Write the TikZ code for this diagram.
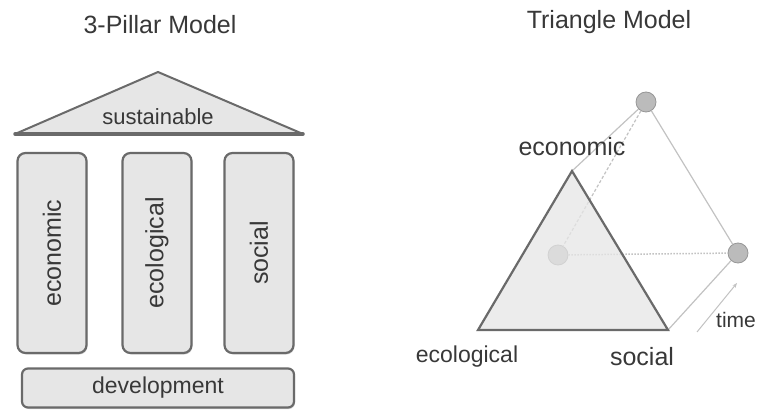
\documentclass[tikz,border=0pt]{standalone}
\usepackage{fontspec}
\setmainfont{Liberation Sans}
\usetikzlibrary{positioning,arrows.meta,shadows}

\definecolor{ink}{HTML}{383838}
\definecolor{edge}{HTML}{6A6A6A}
\definecolor{boxfill}{HTML}{E6E6E6}
\definecolor{faint}{HTML}{C2C2C2}
\definecolor{ballfill}{HTML}{BBBBBB}

\tikzset{
  lbl/.style={text=ink, inner sep=0pt, font=\fontsize{25}{30}\selectfont},
  pillar/.style={draw=edge, line width=2.2pt, fill=boxfill, rounded corners=8pt,
    minimum width=69pt, minimum height=200pt, inner sep=0pt, text=ink,
    font=\fontsize{25}{30}\selectfont,
    drop shadow={shadow xshift=1pt, shadow yshift=-1.5pt, opacity=.3}},
  ball/.style={circle, fill=ballfill, draw=ballfill!80!black, line width=0.8pt,
    minimum size=20pt, inner sep=0pt},
  hidden/.style={faint, line width=1.2pt, dash pattern=on 3pt off 2pt},
}

\begin{document}
\begin{tikzpicture}[x=1pt,y=-1pt]
\useasboundingbox (0,0) rectangle (757,414);

% 3-pillar model
\node[lbl] (pillartitle) at (160,25) {3-Pillar Model};
\coordinate (roofl) at (15,134);
\coordinate (rooftop) at (158,72);
\coordinate (roofr) at (303,134);
\filldraw[draw=edge, fill=boxfill, line width=2pt, line join=round] (roofl) -- (rooftop) -- (roofr) -- cycle;
\draw[edge, line width=3.5pt, line cap=round] (roofl) -- (roofr);
\node[lbl, font=\fontsize{22}{26}\selectfont] (sust) at (158,117) {sustainable};

\node[pillar] (econ) at (52,253) {\rotatebox{90}{economic}};
\node[pillar] (ecol) at (157,253) {\rotatebox{90}{ecological}};
\node[pillar] (soc) at (259,253) {\rotatebox{90}{social}};
\node[pillar, minimum width=272pt, minimum height=39pt, rounded corners=6pt,
  font=\fontsize{23}{28}\selectfont] (dev) at (158,388) {development};

% triangle model
\node[lbl] (tritle) at (609,22) {Triangle Model};
\coordinate (apex) at (572,171);
\coordinate (left) at (478,330);
\coordinate (right) at (668,330);
\node[ball] (btop) at (646,102) {};
\node[ball] (bright) at (738,253) {};
\node[ball] (bleft) at (558,255) {};
\draw[faint, line width=1.2pt] (apex) -- (btop) -- (bright) -- (right);
\draw[hidden] (btop) -- (bleft);
\draw[faint, line width=1.5pt, dash pattern=on 1.5pt off 1.5pt] (bleft) -- (bright);
\filldraw[fill=boxfill, fill opacity=0.75, draw=edge, line width=2.2pt] (apex) -- (left) -- (right) -- cycle;

\coordinate (t0) at (697,332);
\coordinate (t1) at (737,283);
\draw[faint, line width=1pt, -{Stealth[length=5pt]}] (t0) -- (t1);

\node[lbl] (econlbl) at (572,147) {economic};
\node[lbl, font=\fontsize{23}{28}\selectfont] (ecollbl) at (467,357) {ecological};
\node[lbl] (soclbl) at (642,357) {social};
\node[lbl, anchor=west, font=\fontsize{21}{26}\selectfont] (timelbl) at (716,320) {time};
\end{tikzpicture}
\end{document}
